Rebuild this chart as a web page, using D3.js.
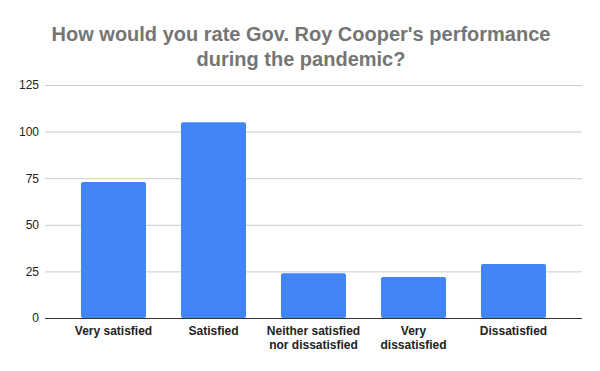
<!DOCTYPE html>
<html>
<head>
<meta charset="utf-8">
<script src="https://cdn.jsdelivr.net/npm/d3@7"></script>
<style>
  body { margin: 0; background: #fff; }
  text { font-family: Arial, "Liberation Sans", sans-serif; }
</style>
</head>
<body>
<div id="chart"></div>
<script>
const categories = ["Very satisfied", "Satisfied", "Neither satisfied nor dissatisfied", "Very dissatisfied", "Dissatisfied"];
const values = [73, 105, 24, 22, 29];
const yTicks = [0, 25, 50, 75, 100, 125];
const titleLines = ["How would you rate Gov. Roy Cooper's performance", "during the pandemic?"];

const width = 600, height = 371;
const svg = d3.select("#chart").append("svg").attr("width", width).attr("height", height);

svg.append("rect").attr("width", width).attr("height", height).attr("fill", "#fff");

const x = d3.scaleBand().domain(categories).range([45, 582]).paddingInner(0.35).paddingOuter(0.36);
const y = d3.scaleLinear().domain([0, 125]).range([318, 85]);

// title
svg.append("g").selectAll("text")
  .data(titleLines)
  .enter().append("text")
  .attr("x", 301)
  .attr("y", (d, i) => 41 + i * 25)
  .attr("text-anchor", "middle")
  .attr("font-size", "20px")
  .attr("font-weight", "bold")
  .attr("fill", "#757575")
  .text(d => d);

// gridlines + y labels
const yAxis = svg.append("g")
  .attr("transform", "translate(45,0)")
  .call(d3.axisLeft(y).tickValues(yTicks).tickSize(-537).tickPadding(6));
yAxis.select(".domain").remove();
yAxis.selectAll(".tick line").attr("stroke", "#cccccc");
yAxis.selectAll(".tick text").attr("font-size", "12px").attr("fill", "#222").attr("font-family", "Arial, 'Liberation Sans', sans-serif");

// bars
svg.append("g").selectAll("rect")
  .data(values)
  .enter().append("rect")
  .attr("x", (d, i) => x(categories[i]))
  .attr("width", x.bandwidth())
  .attr("y", d => y(d))
  .attr("height", d => y(0) - y(d))
  .attr("rx", 2)
  .attr("fill", "#4285f4");

// baseline + x labels
const xAxis = svg.append("g")
  .attr("transform", `translate(0,${y(0)})`)
  .call(d3.axisBottom(x).tickSize(0).tickPadding(0));
xAxis.select(".domain").attr("d", "M45,0.5H582").attr("stroke", "#333");
xAxis.selectAll(".tick text").remove();

function wrapLines(label, maxW) {
  const words = label.split(" ");
  const lines = [];
  let cur = "";
  const meas = svg.append("text").attr("font-size", "12px").attr("font-weight", "bold");
  words.forEach(w => {
    const test = cur ? cur + " " + w : w;
    meas.text(test);
    if (cur && meas.node().getComputedTextLength() > maxW) {
      lines.push(cur);
      cur = w;
    } else cur = test;
  });
  lines.push(cur);
  meas.remove();
  return lines;
}

xAxis.selectAll(".tick").each(function (d) {
  const t = d3.select(this).append("text")
    .attr("text-anchor", "middle")
    .attr("font-size", "12px")
    .attr("font-weight", "bold")
    .attr("fill", "#222")
    .attr("font-family", "Arial, 'Liberation Sans', sans-serif");
  const lines = d === "Very dissatisfied" ? ["Very", "dissatisfied"] : wrapLines(d, 100);
  lines.forEach((ln, i) => {
    t.append("tspan").attr("x", 0).attr("y", 17 + i * 14).text(ln);
  });
});
</script>
</body>
</html>
